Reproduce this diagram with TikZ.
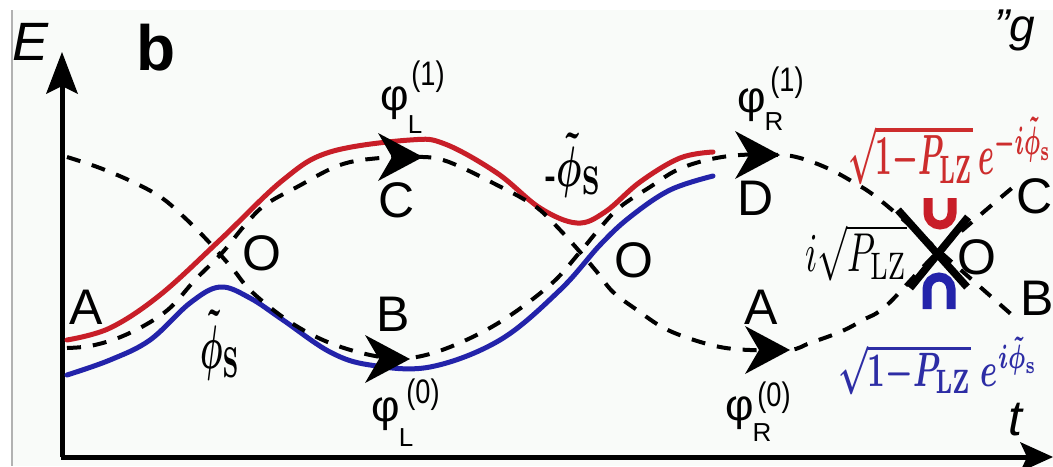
\documentclass[tikz,border=0pt]{standalone}
\usepackage[no-math]{fontspec}
\setmainfont{Liberation Sans}
\usepackage{graphicx}
\definecolor{cred}{RGB}{200,30,40}
\definecolor{cblue}{RGB}{35,35,170}
\definecolor{fred}{RGB}{205,45,45}
\definecolor{fblue}{RGB}{45,45,165}
\definecolor{bgc}{RGB}{249,251,249}
\newcommand{\narrow}[1]{\scalebox{0.8}[1]{#1}}
\tikzset{
  curve/.style={line width=2.5pt, line cap=round},
  dashcurve/.style={line width=2pt, dash pattern=on 7pt off 6pt},
  axisline/.style={line width=2.5pt},
  lab/.style={inner sep=0pt, font=\fontsize{25}{30}\selectfont},
  phil/.style={inner sep=0pt, font=\fontsize{22}{26}\selectfont},
  subl/.style={inner sep=0pt, font=\fontsize{13}{15}\selectfont},
  supl/.style={inner sep=0pt, font=\fontsize{17}{20}\selectfont},
  bigarrow/.pic={\fill (0,0) -- (-45,-24) -- (-31,0) -- (-45,24) -- cycle;}
}
\begin{document}
\begin{tikzpicture}[x=0.5pt,y=-0.5pt]
\useasboundingbox (0,0) rectangle (1053,466);
\fill[white] (0,0) rectangle (1053,466);
\fill[bgc] (12,10) rectangle (1053,466);
\draw[gray!60, line width=1pt] (12,10) -- (12,466);

% axes
\draw[axisline] (62,457) -- (62,85);
\fill (62,52) -- (46,94) -- (62,86) -- (78,94) -- cycle;
\draw[axisline] (61,457) -- (1030,457);
\fill (1053,457) -- (1020,442) -- (1027,457) -- (1020,472) -- cycle;

% adiabatic curves
\draw[curve, cred] plot[smooth, tension=0.6] coordinates {(67,340) (110,328) (160,295) (220,240) (283,180) (330,152) (410,140) (445,144) (497,173) (540,208) (577,223) (605,212) (640,182) (680,158) (713,152)};
\draw[curve, cblue] plot[smooth, tension=0.6] coordinates {(67,375) (110,360) (150,340) (190,303) (220,287) (250,298) (283,320) (330,352) (370,365) (430,367) (500,340) (560,290) (600,245) (630,217) (670,190) (713,176)};

% diabatic dashed curves
\draw[dashcurve] plot[smooth, tension=0.6] coordinates {(67,157) (100,168) (135,183) (162,198) (185,218) (207,240) (232,268) (252,292) (290,322) (330,343) (375,356) (410,358) (450,347) (500,322) (550,285) (580,252) (600,228) (620,207) (650,187) (677,170) (707,160) (740,155) (780,155) (800,158) (827,168) (853,182) (880,200) (938,250) (1012,315)};
\draw[dashcurve] plot[smooth, tension=0.6] coordinates {(67,348) (90,346) (118,338) (147,324) (171,307) (195,280) (222,253) (245,225) (265,205) (297,187) (340,165) (380,158) (423,157) (443,160) (465,169) (493,183) (520,197) (540,210) (562,232) (580,252) (597,272) (613,292) (637,310) (662,327) (688,338) (720,347) (750,350) (790,350) (810,343) (840,332) (863,320) (887,305) (938,252) (1012,188)};

% arrowheads
\pic at (423,157) {bigarrow};
\pic at (410,359) {bigarrow};
\pic at (780,155) {bigarrow};
\pic at (790,350) {bigarrow};

% avoided crossing symbol
\draw[cred, line width=4.5pt] (928,198) -- (928,213) arc[start angle=180, end angle=0, radius=12] -- (952,198);
\draw[cblue, line width=4.5pt] (927,309) -- (927,289) arc[start angle=180, end angle=360, radius=12] -- (951,309);
\draw[line width=3.8pt] (898,210) -- (967,287);
\draw[line width=3.8pt] (968,217) -- (910,288);

% labels
\node[inner sep=0pt, font=\fontsize{27}{30}\selectfont\itshape] (E) at (31,42) {E};
\node[inner sep=0pt, font=\fontsize{32}{36}\selectfont\bfseries] (b) at (156,48) {b};
\node[inner sep=0pt, font=\fontsize{23}{26}\selectfont\itshape] (g) at (1015,30) {"g};
\node[inner sep=0pt, font=\fontsize{25}{30}\selectfont\itshape] (t) at (1015,420) {t};

\node[lab] (A1) at (86,307) {A};
\node[lab] (O1) at (262,253) {O};
\node[lab] (B1) at (393,314) {B};
\node[lab] (C1) at (397,200) {C};
\node[lab] (O2) at (634,260) {O};
\node[lab] (D1) at (756,198) {D};
\node[lab] (A2) at (761,307) {A};
\node[lab] (C2) at (1035,196) {C};
\node[lab] (B2) at (1037,298) {B};
\node[lab] (O3) at (977,257) {O};

\node[inner sep=0pt] (ps1) at (220,345) {\resizebox*{20pt}{35pt}{\boldmath$\tilde{\phi}_{\mathrm{S}}$}};
\node[inner sep=0pt] (ps2) at (573,165) {\resizebox*{28.5pt}{32.5pt}{\raisebox{-0.14em}{-}\boldmath$\tilde{\phi}_{\mathrm{S}}$}};

% phi labels
\node[phil] (pL1) at (395,103) {φ};
\node[subl] (pL1s) at (415,125) {L};
\node[supl] (pL1u) at (428,77) {\narrow{(1)}};
\node[phil] (pL0) at (386,414) {φ};
\node[subl] (pL0s) at (406,438) {L};
\node[supl] (pL0u) at (423,395) {\narrow{(0)}};
\node[phil] (pR1) at (752,105) {φ};
\node[subl] (pR1s) at (774,122) {R};
\node[supl] (pR1u) at (787,83) {\narrow{(1)}};
\node[phil] (pR0) at (740,413) {φ};
\node[subl] (pR0s) at (762,433) {R};
\node[supl] (pR0u) at (774,398) {\narrow{(0)}};

% formulas
\node[inner sep=0pt, text=fred] (fr) at (950,151) {\resizebox*{102pt}{34pt}{\boldmath$\sqrt{1{-}P_{\mathrm{LZ}}}\,e^{-i\tilde{\phi}_{\mathrm{s}}}$}};
\node[inner sep=0pt] (fi) at (856,253) {\resizebox*{51pt}{28.5pt}{$i\sqrt{P_{\mathrm{LZ}}}$}};
\node[inner sep=0pt, text=fblue] (fb) at (938,366) {\resizebox*{100pt}{29pt}{\boldmath$\sqrt{1{-}P_{\mathrm{LZ}}}\;e^{i\tilde{\phi}_{\mathrm{s}}}$}};
\end{tikzpicture}
\end{document}
